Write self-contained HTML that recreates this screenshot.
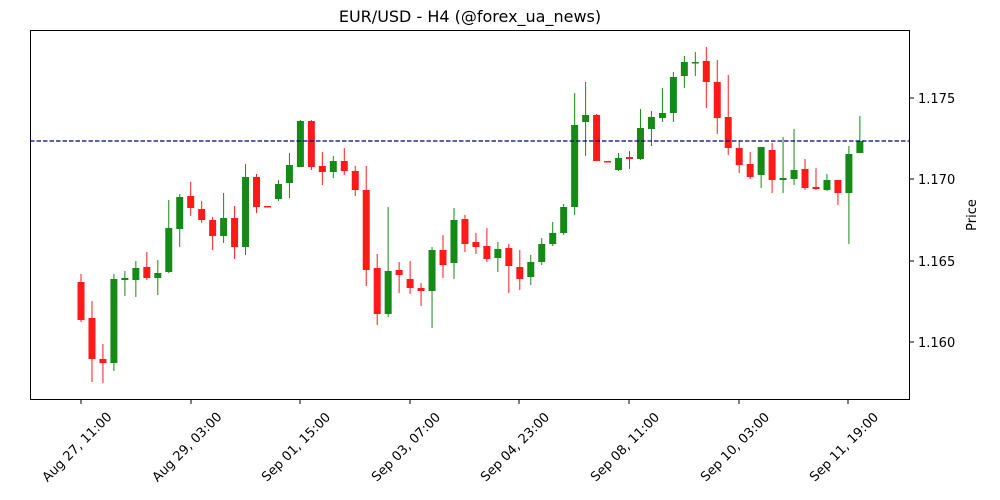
<!DOCTYPE html>
<html><head><meta charset="utf-8"><style>
body{margin:0;background:#fff;}
svg{display:block;font-family:"DejaVu Sans","Liberation Sans",sans-serif;}
</style></head><body>
<svg id="s" width="1000" height="500" xmlns="http://www.w3.org/2000/svg">
<rect width="1000" height="500" fill="#fff"/>
<text x="470" y="22" font-size="16" text-anchor="middle" fill="#000">EUR/USD - H4 (@forex_ua_news)</text>
<g id="c"></g>
<line x1="30" y1="141" x2="910" y2="141" stroke="#00008b" stroke-width="1.2" stroke-dasharray="4.5,2"/>
<rect x="30.5" y="30.5" width="879" height="369" fill="none" stroke="#000" stroke-width="1"/>
<g id="t" font-size="13" fill="#000"></g>
<text transform="translate(976,215) rotate(-90)" font-size="13" text-anchor="middle">Price</text>
</svg>
<script>
var d=[
['r',282,320,274,322],['r',318,359,301,382],['r',359,363,344,383],['g',279,363,274,371],
['g',278,280,271,296],['g',268,280,261,297],['r',267,278,252,280],['g',273,278,260,295],
['g',228,272,200,273],['g',197,229,194,247],['r',196,208,182,216],['r',209,220,201,223],
['r',220,236,217,250],['g',218,236,193,243],['r',218,247,206,259],['g',177,247,164,255],
['r',177,207,174,213],['r',206,207,206,207],['g',184,199,180,201],['g',165,183,153,198],
['g',121,167,120,167],['r',121,167,120,170],['r',166,172,152,185],['g',161,172,156,178],
['r',161,171,148,175],['r',171,190,166,196],['r',190,270,166,286],['r',268,314,254,325],
['g',271,314,207,317],['r',270,275,262,293],['r',279,288,261,294],['r',288,291,283,306],
['g',250,291,247,328],['r',250,265,235,278],['g',220,263,208,279],['r',219,244,215,252],
['r',242,247,233,254],['r',246,259,228,262],['g',249,258,242,272],['r',248,266,244,293],
['r',267,279,250,290],['g',262,277,255,285],['g',244,262,238,265],['g',233,244,222,246],
['g',207,233,204,235],['g',125,207,93,215],['g',115,122,82,156],['r',115,161,114,161],
['r',161,162,161,162],['g',158,170,153,171],['r',157,159,151,169],['g',128,159,109,160],
['g',117,129,111,146],['g',113,118,88,122],['g',77,113,72,122],['g',62,76,56,88],
['g',62,63,52,76],['r',61,82,47,108],['r',82,118,60,134],['r',117,148,75,155],
['r',148,165,140,173],['r',164,177,152,179],['g',147,175,147,188],['r',150,180,143,193],
['g',178,180,137,193],['g',170,179,129,185],['r',169,188,159,190],['r',187,189,168,190],
['g',180,190,174,191],['r',180,193,180,205],['g',154,193,146,244],['g',141,153,116,153]];
var c=document.getElementById('c'),h='';
d.forEach(function(k,i){var x=81+i*10.97,col=k[0]=='g'?'#168a16':'#ff1a1a';
h+='<line x1="'+x+'" x2="'+x+'" y1="'+k[3]+'" y2="'+k[4]+'" stroke="'+col+'" stroke-width="1"/>';
h+='<rect x="'+(x-3.5)+'" y="'+k[1]+'" width="7" height="'+Math.max(1.5,k[2]-k[1])+'" fill="'+col+'"/>';});
c.innerHTML=h;
var t=document.getElementById('t'),s='';
var xl=[[81,'Aug 27, 11:00'],[191,'Aug 29, 03:00'],[300,'Sep 01, 15:00'],[410,'Sep 03, 07:00'],[519,'Sep 04, 23:00'],[629,'Sep 08, 11:00'],[739,'Sep 10, 03:00'],[848,'Sep 11, 19:00']];
xl.forEach(function(a){s+='<line x1="'+a[0]+'" x2="'+a[0]+'" y1="400" y2="404" stroke="#000"/>';
s+='<text transform="translate('+(a[0]-1)+',450) rotate(-45)" text-anchor="middle">'+a[1]+'</text>';});
[[98,'1.175'],[179,'1.170'],[261,'1.165'],[342,'1.160']].forEach(function(a){
s+='<line x1="910" x2="914" y1="'+a[0]+'" y2="'+a[0]+'" stroke="#000"/>';
s+='<text x="918" y="'+(a[0]+5)+'">'+a[1]+'</text>';});
t.innerHTML=s;
</script>
</body></html>
